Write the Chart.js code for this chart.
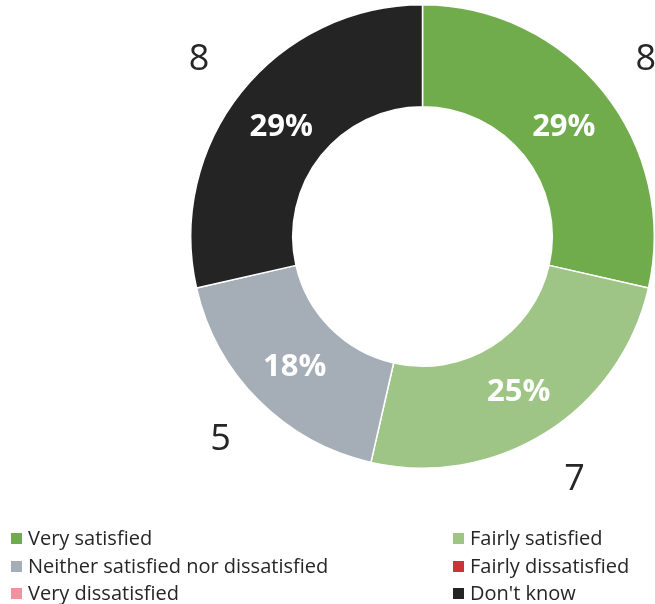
<!DOCTYPE html>
<html>
<head>
<meta charset="utf-8">
<script src="https://cdn.jsdelivr.net/npm/chart.js@4/dist/chart.umd.min.js"></script>
<style>
  html, body { margin: 0; padding: 0; background: #fff; }
  #wrap { position: relative; width: 655px; height: 604px; overflow: hidden; }
  #c { position: absolute; left: 0; top: 0; }
  #legend { position: absolute; left: 0; top: 524px; width: 655px; height: 80px;
            font-family: "Open Sans", sans-serif; font-size: 20px; color: #262626; }
  .item { position: absolute; height: 27px; line-height: 27px; white-space: nowrap; }
  .sw { position: absolute; left: 0; top: 9px; width: 11px; height: 11px; }
  .tx { position: absolute; left: 17px; top: 0; }
</style>
</head>
<body>
<div id="wrap">
  <canvas id="c" width="655" height="604"></canvas>
  <div id="legend"></div>
</div>
<script>
const categories = ["Very satisfied", "Fairly satisfied", "Neither satisfied nor dissatisfied", "Fairly dissatisfied", "Very dissatisfied", "Don't know"];
const counts = [8, 7, 5, 0, 0, 8];
const colors = ["#71AC4C", "#9EC585", "#A5ADB6", "#CF3139", "#F4919E", "#242424"];

const total = counts.reduce((a, b) => a + b, 0);

const labelPlugin = {
  id: 'sliceLabels',
  afterDatasetsDraw(chart) {
    const ctx = chart.ctx;
    const meta = chart.getDatasetMeta(0);
    meta.data.forEach((arc, i) => {
      const v = counts[i];
      if (!v) return;
      const p = arc.getProps(['x', 'y', 'startAngle', 'endAngle', 'innerRadius', 'outerRadius'], true);
      const mid = (p.startAngle + p.endAngle) / 2;
      const rIn = (p.innerRadius + p.outerRadius) / 2;
      const pct = Math.round(v / total * 100) + '%';
      ctx.save();
      ctx.textAlign = 'center';
      ctx.textBaseline = 'middle';
      ctx.fillStyle = '#ffffff';
      ctx.font = 'bold 31px "Open Sans", sans-serif';
      ctx.fillText(pct, p.x + Math.cos(mid) * rIn, p.y + Math.sin(mid) * rIn + 3);
      const rOut = p.outerRadius + 54;
      ctx.fillStyle = '#262626';
      ctx.font = '36px "Open Sans", sans-serif';
      ctx.fillText(String(v), p.x + Math.cos(mid) * rOut, p.y + Math.sin(mid) * rOut + 1);
      ctx.restore();
    });
  }
};

new Chart(document.getElementById('c'), {
  type: 'doughnut',
  data: {
    labels: categories,
    datasets: [{
      data: counts,
      backgroundColor: colors,
      borderColor: '#ffffff',
      borderWidth: 1.5,
      hoverOffset: 0
    }]
  },
  options: {
    responsive: false,
    animation: false,
    cutout: '56%',
    layout: { padding: { left: 190, top: 4, right: 0, bottom: 135 } },
    plugins: { legend: { display: false }, tooltip: { enabled: false } }
  },
  plugins: [labelPlugin]
});

// legend (two columns, row-major)
const legend = document.getElementById('legend');
const colX = [11, 453];
const rowY = [0, 28, 55];
categories.forEach((name, i) => {
  const it = document.createElement('div');
  it.className = 'item';
  it.style.left = colX[i % 2] + 'px';
  it.style.top = rowY[Math.floor(i / 2)] + 'px';
  const sw = document.createElement('span');
  sw.className = 'sw';
  sw.style.background = colors[i];
  const tx = document.createElement('span');
  tx.className = 'tx';
  tx.textContent = name;
  it.appendChild(sw); it.appendChild(tx);
  legend.appendChild(it);
});
</script>
</body>
</html>
